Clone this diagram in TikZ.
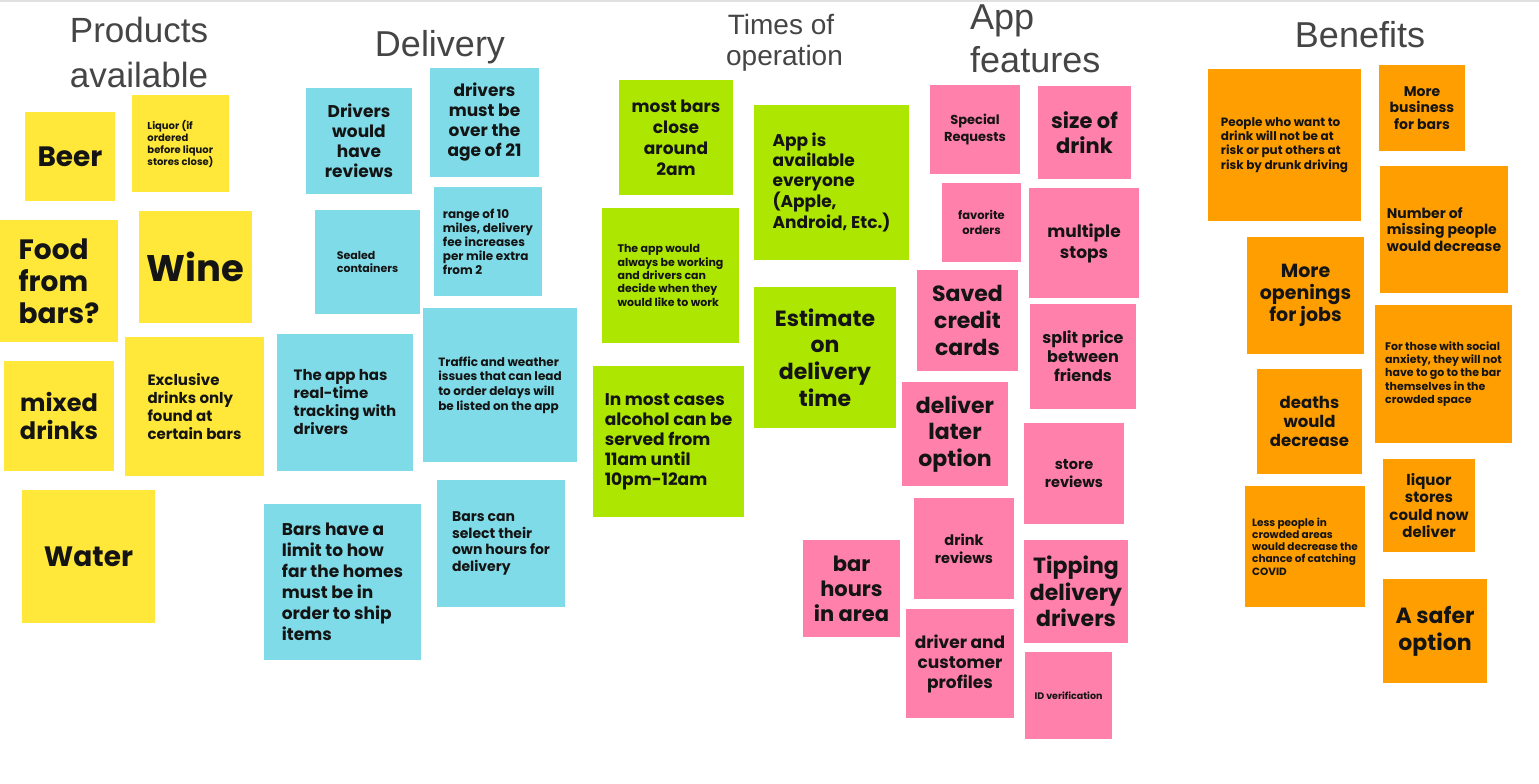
\documentclass[tikz,border=0pt]{standalone}
\usepackage{fontspec}
\setmainfont{Liberation Sans}
\newfontfamily\notefont{Poppins}
\definecolor{ylw}{HTML}{FFE83A}
\definecolor{cyn}{HTML}{80DBE8}
\definecolor{grn}{HTML}{ADE600}
\definecolor{pnk}{HTML}{FF80AA}
\definecolor{org}{HTML}{FF9E00}
\definecolor{ttl}{HTML}{454545}
\newcommand{\sticky}[9]{%
  \node[note, fill=#2, minimum width={(#5-#3)*1pt}, minimum height={(#6-#4)*1pt},
        align=#8, font=\notefont\bfseries\fontsize#7\selectfont]
        (#1) at ({(#3+#5)/2},{(#4+#6)/2}) {#9};}
\begin{document}
\begin{tikzpicture}[x=1pt,y=-1pt,
  note/.style={rectangle, draw=none, inner sep=0pt, text=black!92},
  title/.style={anchor=base, text=ttl, inner sep=0pt}]
\useasboundingbox (0,0) rectangle (1539,784);
\fill[white] (0,0) rectangle (1539,784);
\fill[black!12] (0,0) rectangle (1539,2.5);
% titles
\node[title, font=\fontsize{35}{40}\selectfont] (t1a) at (139,43) {Products};
\node[title, font=\fontsize{35}{40}\selectfont] (t1b) at (139,87) {available};
\node[title, font=\fontsize{36}{40}\selectfont] (t2) at (440,57) {Delivery};
\node[title, font=\fontsize{28}{32}\selectfont] (t3a) at (781,35) {Times of};
\node[title, font=\fontsize{28}{32}\selectfont] (t3b) at (784.5,66) {operation};
\node[title, anchor=base west, font=\fontsize{36}{40}\selectfont] (t4a) at (970,30) {App};
\node[title, anchor=base west, font=\fontsize{36}{40}\selectfont] (t4b) at (970,72) {features};
\node[title, font=\fontsize{36}{40}\selectfont] (t5) at (1360,48) {Benefits};
% Products
\sticky{beer}{ylw}{25}{112}{115}{201}{{28}{32}}{center}{Beer}
\sticky{liquor}{ylw}{132}{95}{229}{192}{{10}{12}}{left}{Liquor (if\\ordered\\before liquor\\stores close)}
\sticky{food}{ylw}{0}{220}{118}{342}{{28}{32}}{left}{Food\\from\\bars?}
\sticky{wine}{ylw}{139}{211}{252}{323}{{37}{40}}{center}{Wine}
\sticky{mixed}{ylw}{4}{361}{114}{471}{{24}{28}}{center}{mixed\\drinks}
\sticky{exclusive}{ylw}{125}{337}{264}{476}{{15}{18}}{left}{Exclusive\\drinks only\\found at\\certain bars}
\sticky{water}{ylw}{22}{490}{155}{623}{{28}{32}}{center}{Water}
% Delivery
\sticky{drvrev}{cyn}{306}{88}{412}{194}{{17}{20}}{center}{Drivers\\would\\have\\reviews}
\sticky{age}{cyn}{430}{68}{539}{177}{{17}{20}}{center}{drivers\\must be\\over the\\age of 21}
\sticky{sealed}{cyn}{315}{210}{420}{314}{{11}{13}}{left}{Sealed\\containers}
\sticky{range}{cyn}{434}{187}{542}{296}{{12}{14}}{left}{range of 10\\miles, delivery\\fee increases\\per mile extra\\from 2}
\sticky{tracking}{cyn}{277}{334}{413}{471}{{15}{18}}{left}{The app has\\real-time\\tracking with\\drivers}
\sticky{traffic}{cyn}{423}{308}{577}{462}{{12}{14.7}}{left}{Traffic and weather\\issues that can lead\\to order delays will\\be listed on the app}
\sticky{limit}{cyn}{264}{504}{421}{660}{{17}{21}}{left}{Bars have a\\limit to how\\far the homes\\must be in\\order to ship\\items}
\sticky{select}{cyn}{437}{480}{565}{607}{{14}{16.7}}{left}{Bars can\\select their\\own hours for\\delivery}
% Times of operation
\sticky{close}{grn}{619}{80}{733}{195}{{17}{21}}{center}{most bars\\close\\around\\2am}
\sticky{always}{grn}{602}{208}{739}{343}{{11}{13.3}}{left}{The app would\\always be working\\and drivers can\\decide when they\\would like to work}
\sticky{avail}{grn}{754}{105}{909}{260}{{17}{20}}{left}{App is\\available\\everyone\\(Apple,\\Android, Etc.)}
\sticky{estimate}{grn}{754}{287}{896}{428}{{22}{26.7}}{center}{Estimate\\on\\delivery\\time}
\sticky{served}{grn}{593}{366}{744}{517}{{17}{20}}{left}{In most cases\\alcohol can be\\served from\\11am until\\10pm-12am}
% App features
\sticky{special}{pnk}{930}{85}{1020}{174}{{13}{16.7}}{center}{Special\\Requests}
\sticky{size}{pnk}{1038}{86}{1131}{179}{{21}{25}}{center}{size of\\drink}
\sticky{favorite}{pnk}{942}{183}{1021}{262}{{11.5}{15}}{center}{favorite\\orders}
\sticky{stops}{pnk}{1029}{188}{1139}{298}{{17}{21}}{center}{multiple\\stops}
\sticky{saved}{pnk}{917}{270}{1018}{371}{{22}{26.7}}{center}{Saved\\credit\\cards}
\sticky{split}{pnk}{1030}{304}{1136}{409}{{16}{19}}{center}{split price\\between\\friends}
\sticky{later}{pnk}{902}{382}{1008}{486}{{22}{26.7}}{center}{deliver\\later\\option}
\sticky{store}{pnk}{1024}{423}{1124}{524}{{14.5}{17.7}}{center}{store\\reviews}
\sticky{drink}{pnk}{914}{498}{1014}{599}{{14.5}{17.7}}{center}{drink\\reviews}
\sticky{barhours}{pnk}{803}{540}{900}{637}{{21}{25}}{center}{bar\\hours\\in area}
\sticky{tipping}{pnk}{1024}{540}{1128}{643}{{22}{26.7}}{center}{Tipping\\delivery\\drivers}
\sticky{profiles}{pnk}{906}{609}{1014}{718}{{17}{20}}{center}{driver and\\customer\\profiles}
\sticky{idver}{pnk}{1025}{652}{1112}{739}{{9.5}{12}}{center}{ID verification}
% Benefits
\sticky{people}{org}{1208}{69}{1361}{221}{{12}{14.3}}{left}{People who want to\\drink will not be at\\risk or put others at\\risk by drunk driving}
\sticky{business}{org}{1379}{65}{1465}{151}{{14}{16.7}}{center}{More\\business\\for bars}
\sticky{missing}{org}{1380}{166}{1508}{293}{{14}{16.7}}{left}{Number of\\missing people\\would decrease}
\sticky{jobs}{org}{1247}{237}{1364}{354}{{19}{22}}{center}{More\\openings\\for jobs}
\sticky{anxiety}{org}{1375}{305}{1512}{443}{{11}{13.3}}{left}{For those with social\\anxiety, they will not\\have to go to the bar\\themselves in the\\crowded space}
\sticky{deaths}{org}{1257}{369}{1362}{474}{{16.5}{19.3}}{center}{deaths\\would\\decrease}
\sticky{stores}{org}{1383}{459}{1475}{552}{{15}{17.5}}{center}{liquor\\stores\\could now\\deliver}
\sticky{covid}{org}{1245}{486}{1365}{607}{{10.5}{12.3}}{left}{Less people in\\crowded areas\\would decrease the\\chance of catching\\COVID}
\sticky{safer}{org}{1383}{579}{1487}{683}{{22}{26.7}}{center}{A safer\\option}
\end{tikzpicture}
\end{document}
